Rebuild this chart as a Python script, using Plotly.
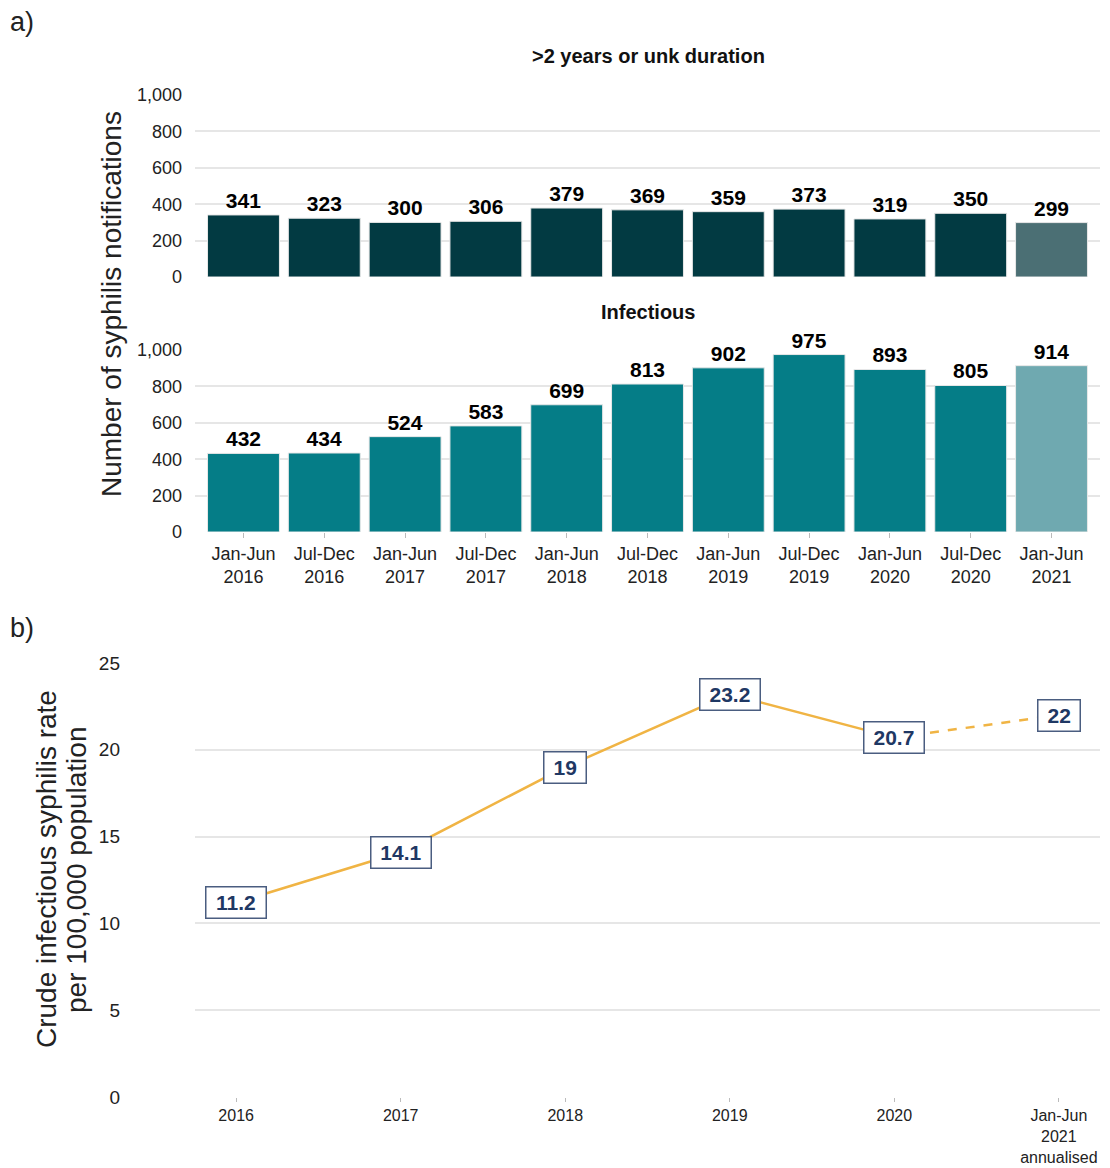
import plotly.graph_objects as go

# ---- data ----
periods = ["Jan-Jun<br>2016", "Jul-Dec<br>2016", "Jan-Jun<br>2017", "Jul-Dec<br>2017",
           "Jan-Jun<br>2018", "Jul-Dec<br>2018", "Jan-Jun<br>2019", "Jul-Dec<br>2019",
           "Jan-Jun<br>2020", "Jul-Dec<br>2020", "Jan-Jun<br>2021"]
late_counts = [341, 323, 300, 306, 379, 369, 359, 373, 319, 350, 299]
infectious_counts = [432, 434, 524, 583, 699, 813, 902, 975, 893, 805, 914]

rate_years = ["2016", "2017", "2018", "2019", "2020", "Jan-Jun<br>2021<br>annualised"]
rate_values = [11.2, 14.1, 19, 23.2, 20.7, 22]

bar_ticks = [0, 200, 400, 600, 800, 1000]
bar_ticktext = ["0", "200", "400", "600", "800", "1,000"]
rate_ticks = [0, 5, 10, 15, 20, 25]

# ---- style ----
FONT = "Liberation Sans, Arial, sans-serif"
W, H = 1110, 1168
def px_x(p): return p / W
def px_y(p): return 1 - p / H

late_colors = ["#023a42"] * (len(late_counts) - 1) + ["#4b6f74"]
inf_colors = ["#057d87"] * (len(infectious_counts) - 1) + ["#6fa9b0"]
GRID = "#e6e6e6"
LINE = "#f0b444"
NAVY = "#1f3864"
TXT = "#222222"

fig = go.Figure()

fig.add_trace(go.Bar(
    x=periods, y=late_counts, xaxis="x", yaxis="y",
    marker=dict(color=late_colors, line=dict(color="#e8e8e8", width=1)),
    width=0.89, text=[str(v) for v in late_counts], textposition="outside",
    textfont=dict(family=FONT, size=21, color="black", weight="bold"),
    constraintext="none", cliponaxis=False, showlegend=False))

fig.add_trace(go.Bar(
    x=periods, y=infectious_counts, xaxis="x2", yaxis="y2",
    marker=dict(color=inf_colors, line=dict(color="#e8e8e8", width=1)),
    width=0.89, text=[str(v) for v in infectious_counts], textposition="outside",
    textfont=dict(family=FONT, size=21, color="black", weight="bold"),
    constraintext="none", cliponaxis=False, showlegend=False))

# rate line: solid for full years, dashed for annualised part
fig.add_trace(go.Scatter(
    x=rate_years[:-1], y=rate_values[:-1], xaxis="x3", yaxis="y3",
    mode="lines", line=dict(color=LINE, width=2.5), showlegend=False))
fig.add_trace(go.Scatter(
    x=rate_years[-2:], y=rate_values[-2:], xaxis="x3", yaxis="y3",
    mode="lines", line=dict(color=LINE, width=2.5, dash="dash"), showlegend=False))

xd = [px_x(195), px_x(1100)]
def yax(**kw):
    d = dict(showgrid=True, gridcolor=GRID, gridwidth=1.5, zeroline=False,
             showline=False, ticks="", automargin=False)
    d.update(kw)
    return d

fig.update_layout(
    width=W, height=H, margin=dict(l=0, r=0, t=0, b=0),
    plot_bgcolor="white", paper_bgcolor="white",
    font=dict(family=FONT),
    xaxis=dict(domain=xd, anchor="y", range=[-0.6, 10.6], showticklabels=False,
               showgrid=False, ticks="", showline=False, type="category", automargin=False),
    yaxis=yax(domain=[px_y(277), px_y(95)], anchor="x", range=[0, 1000],
              tickvals=bar_ticks, ticktext=bar_ticktext, ticklabelstandoff=12,
              tickfont=dict(family=FONT, size=18, color=TXT)),
    xaxis2=dict(domain=xd, anchor="y2", range=[-0.6, 10.6], type="category",
                showgrid=False, showline=False, ticks="outside", ticklen=5,
                tickcolor="#bbbbbb", automargin=False, ticklabelstandoff=0,
                tickfont=dict(family=FONT, size=18, color=TXT)),
    yaxis2=yax(domain=[px_y(532), px_y(350)], anchor="x2", range=[0, 1000],
               tickvals=bar_ticks, ticktext=bar_ticktext, ticklabelstandoff=12,
               tickfont=dict(family=FONT, size=18, color=TXT)),
    xaxis3=dict(domain=xd, anchor="y3", range=[-0.25, 5.25], type="category",
                showgrid=False, showline=False, ticks="outside", ticklen=4,
                tickcolor="#bbbbbb", automargin=False, ticklabelstandoff=0,
                tickfont=dict(family=FONT, size=16, color=TXT)),
    yaxis3=yax(domain=[px_y(1097), px_y(663)], anchor="x3", range=[0, 25],
               tickvals=rate_ticks, ticklabelstandoff=74,
               tickfont=dict(family=FONT, size=19, color=TXT)),
)

def paper_text(text, x, y, size, angle=0, bold=False, xanchor="center"):
    f = dict(family=FONT, size=size, color=TXT)
    if bold:
        f.update(weight="bold", color="#111111")
    return dict(text=text, x=px_x(x), y=px_y(y), xref="paper", yref="paper",
                xanchor=xanchor, yanchor="middle", textangle=angle,
                showarrow=False, font=f)

annotations = [
    paper_text("a)", 8, 22, 27, xanchor="left"),
    paper_text("b)", 8, 628, 27, xanchor="left"),
    paper_text(">2 years or unk duration", 648, 56, 20, bold=True),
    paper_text("Infectious", 648, 312, 20, bold=True),
    paper_text("Number of syphilis notifications", 112, 304, 28, angle=-90),
    paper_text("Crude infectious syphilis rate", 47, 869, 28, angle=-90),
    paper_text("per 100,000 population", 76, 870, 28, angle=-90),
]
LBL = 21
for i, yv in enumerate(rate_values):
    s = f"{yv:g}"
    text_w = sum(0.278 if ch == "." else 0.556 for ch in s) * LBL
    annotations.append(dict(
        x=i, y=yv, xref="x3", yref="y3", text=s, showarrow=False,
        xanchor="center", yanchor="middle", width=text_w + 14, height=26,
        bgcolor="white", bordercolor="#4a5d80", borderwidth=1.5, borderpad=2,
        font=dict(family=FONT, size=LBL, color=NAVY, weight="bold")))
fig.update_layout(annotations=annotations)

fig.write_html("out.html")
